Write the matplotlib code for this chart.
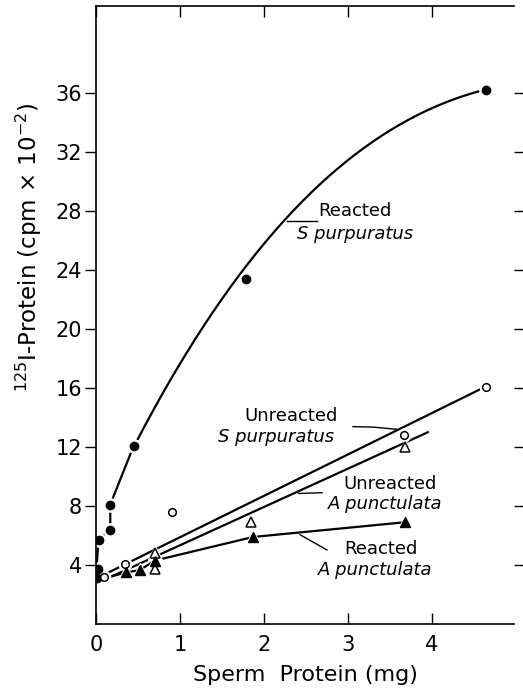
import numpy as np
import matplotlib
matplotlib.use("Agg")
import matplotlib.pyplot as plt

# Reacted S. purpuratus (filled circles)
rsp_x = [0.01, 0.02, 0.03, 0.17, 0.17, 0.45, 1.79, 4.64]
rsp_y = [3.1, 3.7, 5.7, 6.4, 8.1, 12.1, 23.4, 36.2]
# hand drawn curve
rsp_near_x = [0.0, 0.03, 0.17, 0.17, 0.45]
rsp_near_y = [3.3, 5.7, 6.4, 8.1, 12.1]
rsp_curve_x = [0.45, 0.52, 0.89, 1.29, 1.72, 2.25, 3.22, 4.02, 4.64]
rsp_curve_y = [12.1, 12.6, 16.7, 20.3, 23.8, 27.3, 32.4, 35.1, 36.2]

# Unreacted S. purpuratus (open circles)
usp_x = [0.10, 0.35, 0.91, 3.67, 4.64]
usp_y = [3.2, 4.1, 7.6, 12.8, 16.1]
usp_fit_x = [0.08, 4.64]
usp_fit_y = [3.3, 16.1]

# Unreacted A. punctulata (open triangles)
uap_x = [0.70, 0.70, 1.85, 3.68]
uap_y = [4.8, 3.7, 6.9, 12.0]
uap_fit_x = [0.10, 3.95]
uap_fit_y = [3.0, 13.0]

# Reacted A. punctulata (filled triangles)
rap_x = [0.36, 0.52, 0.70, 1.87, 3.68]
rap_y = [3.5, 3.65, 4.3, 5.9, 6.9]
rap_line_x = [0.10, 0.36, 0.52, 0.70, 1.87, 3.68]
rap_line_y = [3.1, 3.5, 3.65, 4.3, 5.9, 6.9]

x_ticks = [0, 1, 2, 3, 4]
y_ticks = [4, 8, 12, 16, 20, 24, 28, 32, 36]

fig = plt.figure(figsize=(5.23, 6.9), dpi=100)
ax = fig.add_axes([96 / 523, 1 - 624 / 690, 418.3 / 523, 618 / 690])

lw = 1.6
# smooth curve through the read points
xs = np.linspace(rsp_curve_x[0], rsp_curve_x[-1], 200)
ys = np.polyval(np.polyfit(rsp_curve_x, rsp_curve_y, 3), xs)
ax.plot(rsp_near_x, rsp_near_y, color="black", lw=lw, zorder=1)
ax.plot(xs, ys, color="black", lw=lw, zorder=1)
ax.plot(usp_fit_x, usp_fit_y, color="black", lw=lw, zorder=1)
ax.plot(uap_fit_x, uap_fit_y, color="black", lw=lw, zorder=1)
ax.plot(rap_line_x, rap_line_y, color="black", lw=lw, zorder=1)

# white halos so the lines break around the points
for x, y, m, s in [(rsp_x, rsp_y, "o", 6.0), (usp_x, usp_y, "o", 5.5),
                   (uap_x, uap_y, "^", 6.5), (rap_x, rap_y, "^", 6.5)]:
    ax.plot(x, y, m, ms=s + 3.5, color="white", ls="none", zorder=2)

ax.plot(rsp_x, rsp_y, "o", ms=6.0, color="black", ls="none", zorder=3)
ax.plot(usp_x, usp_y, "o", ms=5.5, mfc="white", mec="black", mew=1.1, ls="none", zorder=3)
ax.plot(uap_x, uap_y, "^", ms=6.5, mfc="white", mec="black", mew=1.1, ls="none", zorder=3)
ax.plot(rap_x, rap_y, "^", ms=6.5, color="black", ls="none", zorder=3)

# labels with leader lines
fs = 13
ax.text(2.65, 28.0, "Reacted", fontsize=fs, va="center")
ax.text(2.39, 26.45, "S purpuratus", fontsize=fs, style="italic", va="center")
ax.plot([2.27, 2.63], [27.3, 27.3], color="black", lw=1.0)

ax.text(1.77, 14.1, "Unreacted", fontsize=fs, va="center")
ax.text(1.45, 12.7, "S purpuratus", fontsize=fs, style="italic", va="center")
ax.plot([3.06, 3.3, 3.58], [13.38, 13.35, 13.2], color="black", lw=1.0)

ax.text(2.94, 9.5, "Unreacted", fontsize=fs, va="center")
ax.text(2.76, 8.15, "A punctulata", fontsize=fs, style="italic", va="center")
ax.plot([2.41, 2.69], [8.85, 8.9], color="black", lw=1.0)

ax.text(2.96, 5.1, "Reacted", fontsize=fs, va="center")
ax.text(2.64, 3.65, "A punctulata", fontsize=fs, style="italic", va="center")
ax.plot([2.43, 2.75], [6.05, 5.02], color="black", lw=1.0)

ax.set_xlim(0, 4.98)
ax.set_ylim(0, 41.9)
ax.spines["right"].set_visible(False)
for s in ["left", "top", "bottom"]:
    ax.spines[s].set_linewidth(1.2)

ax.set_xticks(x_ticks)
ax.set_xticklabels([str(t) for t in x_ticks], fontsize=15)
ax.set_yticks(y_ticks)
ax.set_yticklabels([str(t) for t in y_ticks], fontsize=15)
ax.tick_params(axis="x", direction="in", length=8, width=1.0, top=True, pad=8)
ax.tick_params(axis="y", direction="out", length=8, width=1.0, right=True, pad=2)

ax.set_xlabel("Sperm  Protein (mg)", fontsize=16, labelpad=7)
ax.set_ylabel(r"$^{125}$I-Protein (cpm $\times$ 10$^{-2}$)", fontsize=16.5)
ax.yaxis.set_label_coords(-0.125, 0.61)

fig.savefig("out.png", dpi=100)
